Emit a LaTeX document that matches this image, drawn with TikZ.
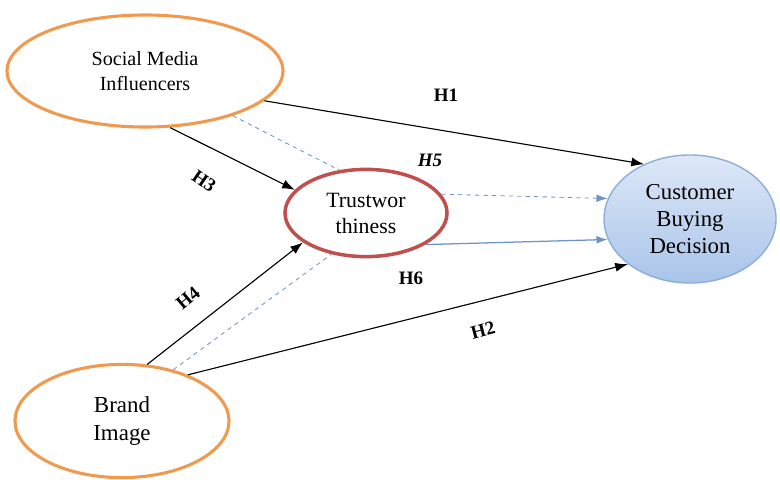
\documentclass[tikz,border=0pt]{standalone}
\usepackage{fontspec}
\setmainfont{Liberation Serif}
\usetikzlibrary{shapes.geometric,arrows.meta}

\definecolor{orangeline}{HTML}{F09A50}
\definecolor{trustred}{HTML}{C0504D}
\definecolor{medblue}{HTML}{6F93C4}
\definecolor{cbdtop}{HTML}{DDE8F7}
\definecolor{cbdbottom}{HTML}{A9C4E9}
\definecolor{cbdline}{HTML}{8DAEDB}

\tikzset{
  construct/.style={ellipse, draw=orangeline, line width=2.2pt, inner sep=0pt,
    align=center, font=\fontsize{15.5}{18.5}\selectfont},
  hyp/.style={font=\fontsize{13.5}{16}\selectfont\bfseries},
  effect/.style={-{Latex[length=9pt,width=6.5pt]}, line width=0.8pt},
  medpath/.style={dashed, draw=medblue, line width=0.6pt},
}

\begin{document}
\begin{tikzpicture}[x=0.025cm, y=-0.025cm]
            \useasboundingbox (0,0) rectangle (780,479);
            \node[construct, font=\fontsize{14.3}{18}\selectfont, minimum width=6.9cm, minimum height=2.8cm] (smi) at (145,71) {Social Media\\Influencers};
            \node[construct, font=\fontsize{16.3}{19.5}\selectfont, minimum width=5.35cm, minimum height=2.83cm] (bi) at (122,421) {Brand\\Image};
            \node[construct, draw=trustred, line width=2.5pt, minimum width=4.05cm, minimum height=2.18cm] (tw) at (366,213) {Trustwor\\thiness};
            \node[construct, font=\fontsize{16.2}{19}\selectfont, draw=cbdline, line width=1pt, top color=cbdtop, bottom color=cbdbottom,
                  minimum width=4.3cm, minimum height=3.2cm] (cbd) at (690,219) {Customer\\Buying\\Decision};
            % direct paths
            \draw[effect] (smi.-14) -- (cbd.130);
            \draw[effect] (bi.35) -- (cbd.216);
            \draw[effect] (smi.-66) -- (tw.162);
            \draw[effect] (bi.66) -- (tw.205);
            % mediated paths
            \draw[medpath] (smi.-27) -- (tw.122);
            \draw[medpath] (bi.45) -- (tw.230);
            \draw[medpath, -{Latex[length=8pt,width=5.5pt]}] (tw.14) -- (cbd.166);
            \draw[draw=medblue, line width=0.9pt, -{Latex[length=8pt,width=5.5pt]}] (tw.-28) -- (cbd.194);
            \node[hyp] (h1) at (446,95) {H1};
            \node[hyp] (h2) at (483,330) [rotate=15] {H2};
            \node[hyp] (h3) at (204,181) [rotate=-35] {H3};
            \node[hyp] (h4) at (188,298) [rotate=40] {H4};
            \node[hyp, font=\fontsize{13.5}{16}\selectfont\bfseries\itshape] (h5) at (430,160) {H5};
            \node[hyp] (h6) at (411,278) {H6};
        \end{tikzpicture}
\end{document}
